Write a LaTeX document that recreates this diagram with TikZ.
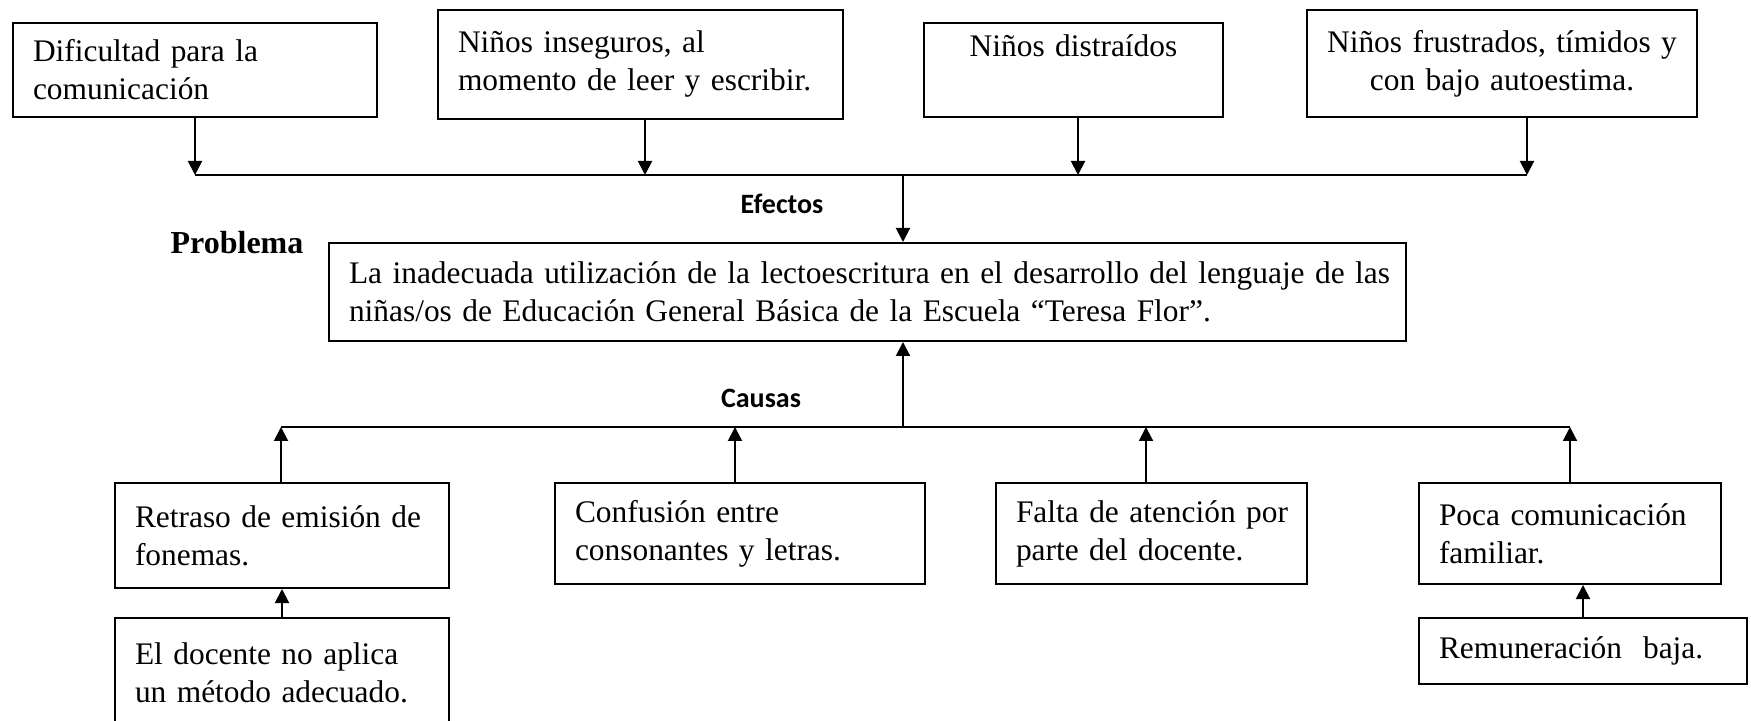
\documentclass[tikz,border=0pt]{standalone}
\usepackage{fontspec}
\setmainfont{Liberation Serif}
\newfontfamily\calibri{Carlito}
\usetikzlibrary{arrows.meta}
\hyphenpenalty=10000
\exhyphenpenalty=10000

\begin{document}
\begin{tikzpicture}[x=0.5pt,y=-0.5pt,
    caja/.style={draw,line width=1pt,anchor=north west,inner xsep=10pt,inner ysep=0pt,align=left,
      font=\fontsize{15.7}{19}\selectfont},
    flecha/.style={line width=1pt,-{Triangle[length=7pt,width=7pt]}},
    linea/.style={line width=1pt},
    rotulo/.style={font=\calibri\bfseries\fontsize{14}{16}\selectfont}]
  \useasboundingbox (0,0) rectangle (1751,721);
  % efectos
  \node[caja,text width=162pt,minimum height=47pt] (e1) at (12,22) {Dificultad para la\\comunicación};
  \node[caja,text width=182.5pt,minimum height=54.5pt] (e2) at (437,9) {Niños inseguros, al\\momento de leer y escribir.};
  \node[caja,text width=129.5pt,minimum height=47pt,align=center] (e3) at (923,22) {Niños distraídos\\\strut};
  \node[caja,text width=175pt,minimum height=53.5pt,align=center] (e4) at (1306,9) {\mbox{Niños frustrados, tímidos y}\\con bajo autoestima.};
  \foreach \i/\x in {1/195,2/645,3/1078,4/1527} {
    \coordinate (t\i) at (\x,175);
    \draw[flecha] (e\i.south -| t\i) -- (t\i);
  }
  \draw[linea] (t1) -- (t4);
  \node[rotulo] (efectos) at (782,204) {Efectos};
  % problema
  \node[font=\bfseries\fontsize{16}{19}\selectfont] (titulo) at (237,243) {Problema};
  \node[caja,text width=518.5pt,minimum height=49pt] (prob) at (328,242) {\mbox{La inadecuada utilización de la lectoescritura en el desarrollo del lenguaje de las}\\niñas/os de Educación General Básica de la Escuela “Teresa Flor”.};
  \coordinate (arriba) at (903,175);
  \coordinate (abajo) at (903,427);
  \draw[flecha] (arriba) -- (arriba |- prob.north);
  \draw[flecha] (abajo) -- (abajo |- prob.south);
  % causas
  \node[rotulo] (causas) at (761,398) {Causas};
  \node[caja,text width=147pt,minimum height=52.5pt] (c1) at (114,482) {Retraso de emisión de\\fonemas.};
  \node[caja,text width=165pt,minimum height=50.5pt] (c2) at (554,482) {Confusión entre\\consonantes y letras.};
  \node[caja,text width=135.5pt,minimum height=50.5pt] (c3) at (995,482) {\mbox{Falta de atención por}\\parte del docente.};
  \node[caja,text width=131pt,minimum height=50.5pt] (c4) at (1418,482) {\mbox{Poca comunicación}\\familiar.};
  \node[caja,text width=147pt,minimum height=55pt] (c1a) at (114,617) {El docente no aplica\\un método adecuado.};
  \node[caja,text width=144pt,minimum height=33pt] (c4a) at (1418,617) {Remuneración\ \ baja.};
  \foreach \i/\x in {1/281,2/735,3/1146,4/1570} {
    \coordinate (s\i) at (\x,427);
    \draw[flecha] (c\i.north -| s\i) -- (s\i);
  }
  \draw[linea] (s1) -- (s4);
  \draw[flecha] (c1a.north) -- (c1.south);
  \draw[flecha] (c4a.north) -- (c4a.north |- c4.south);
\end{tikzpicture}
\end{document}
